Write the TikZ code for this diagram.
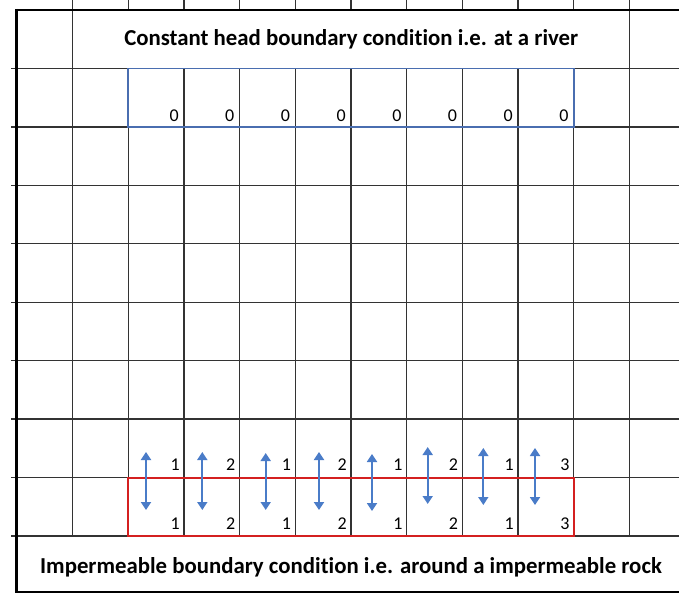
\documentclass[tikz,border=0pt]{standalone}
\usepackage{fontspec}
\setmainfont{Carlito}[Ligatures=NoCommon]
\usetikzlibrary{arrows.meta}
\definecolor{gridgray}{HTML}{333333}
\definecolor{riverblue}{HTML}{4A6EB0}
\definecolor{fluxblue}{HTML}{4A7CC8}
\definecolor{rockred}{HTML}{D42020}

\begin{document}
\begin{tikzpicture}[x=1pt,y=-1pt,
	grid/.style={draw=gridgray,line width=1.3pt},
	border/.style={draw=black,line width=2.4pt},
	heading/.style={anchor=base,inner sep=0pt,font=\bfseries\fontsize{22.8}{26}\selectfont},
	cellval/.style={anchor=base east,inner sep=0pt,font=\fontsize{18}{21}\selectfont},
	flux/.style={draw=fluxblue,line width=1.8pt,{Triangle[width=10pt,length=8pt]}-{Triangle[width=10pt,length=8pt]}}]
	\useasboundingbox (0,0) rectangle (679,593);
	\fill [white] (0,0) rectangle (679,593);
	\foreach \y in {68.5,127,185.3,243.8,302.2,360.6,419.1,477.5,536}
		\draw [grid] (11,\y) -- (679,\y);
	\foreach \x in {72.5,128.2,183.9,239.5,295.2,350.9,406.6,462.3,517.9,573.6,629.3}
		\draw [grid] (\x,0) -- (\x,10) (\x,68.5) -- (\x,536);
	\draw [grid] (72.5,10) -- (72.5,68.5);
	\draw [grid] (629.3,10) -- (629.3,68.5);
	\draw [border] (16,10) -- (679,10);
	\draw [border] (16,592) -- (679,592);
	\draw [border,line width=3pt] (16,9) -- (16,593);
	\draw [riverblue,line width=1.8pt] (128.2,68.5) rectangle (573.6,127);
	\draw [rockred,line width=2pt] (128.2,477.5) rectangle (573.6,536);
	\node [heading] (river) at (351.2,46) {Constant head boundary condition i.e. at a river};
	\node [heading] (rock) at (351,573) {Impermeable boundary condition i.e. around a impermeable rock};
	\foreach \i in {1,...,8}
		\node [cellval] (h\i) at ({128.2+55.68*\i-5},122) {0};
	\foreach \v [count=\i] in {1,2,1,2,1,2,1,3} {
		\node [cellval] (u\i) at ({128.2+55.68*\i-4},470) {\v};
		\node [cellval] (l\i) at ({128.2+55.68*\i-4},529) {\v};
	}
	\foreach \x/\t/\b [count=\i] in {146/452/510,202.3/452/510,265.7/453/510,319/452/510,372/454/511,427.7/447/504,483.3/448/505,535/448/505} {
		\coordinate (t\i) at (\x,\t);
		\coordinate (b\i) at (\x,\b);
		\draw [flux] (t\i) -- (b\i);
	}
\end{tikzpicture}
\end{document}
